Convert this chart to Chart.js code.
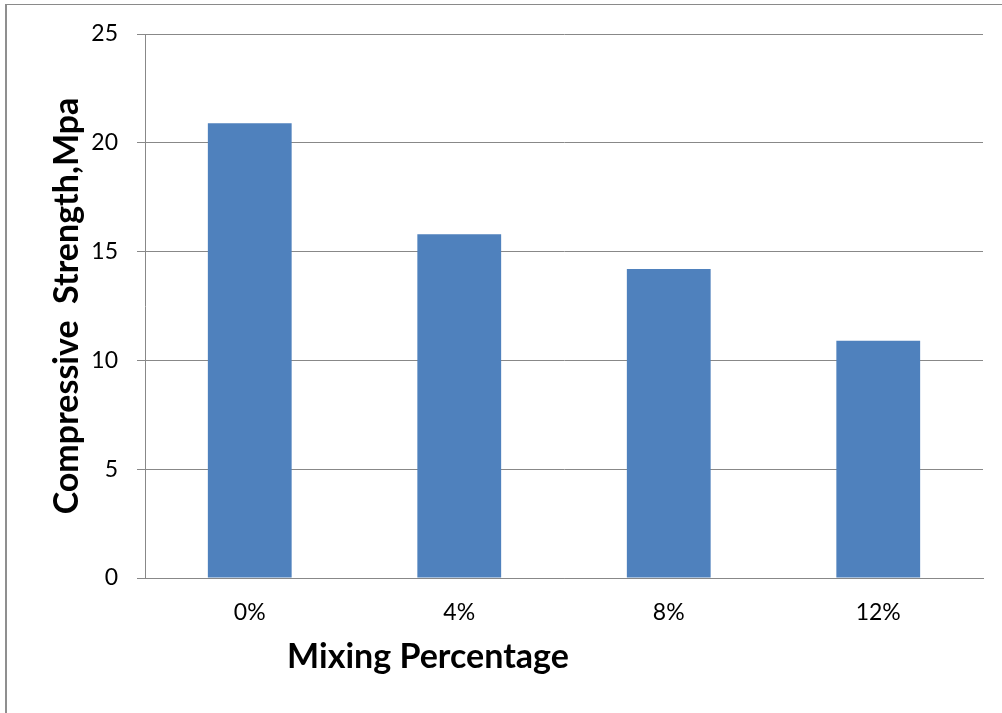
<!DOCTYPE html>
<html>
<head>
<meta charset="utf-8">
<script src="https://cdn.jsdelivr.net/npm/chart.js@4"></script>
<style>
  html, body { margin: 0; padding: 0; background: #fff; }
  #wrap { position: relative; width: 1002px; height: 713px; overflow: hidden; }
  #frame { position: absolute; left: 5px; top: 4px; width: 1200px; height: 900px;
           border-top: 1px solid #8a8a8a; border-left: 2px solid #8f8f8f; }
  #xTitle { position: absolute; left: 0; top: 638px; width: 856px; text-align: center;
            font: bold 34px Lato, sans-serif; line-height: 34px; color: #000; }
  canvas { position: absolute; left: 0; top: 0; }
</style>
</head>
<body>
<div id="wrap">
  <div id="frame"></div>
  <canvas id="chart" width="1002" height="713"></canvas>
  <div id="xTitle"></div>
</div>
<script>
// Mixing percentage categories and measured compressive strength (MPa)
const categories = ['0%', '4%', '8%', '12%'];
const strength = [20.9, 15.8, 14.2, 10.9];
const yTickValues = [0, 5, 10, 15, 20, 25];
const yTitle = 'Compressive  Strength,Mpa';
const xTitle = 'Mixing Percentage';

document.getElementById('xTitle').textContent = xTitle;

const axisGray = '#888888';
const tickFont = { family: 'Lato', size: 23 };

new Chart(document.getElementById('chart'), {
  type: 'bar',
  data: {
    labels: categories,
    datasets: [{
      data: strength,
      backgroundColor: '#4F81BD',
      borderWidth: 0,
      barPercentage: 0.4,
      categoryPercentage: 1.0
    }]
  },
  options: {
    responsive: false,
    animation: false,
    layout: { padding: { top: 34, right: 19, bottom: 0, left: 10 } },
    plugins: { legend: { display: false }, tooltip: { enabled: false } },
    scales: {
      x: {
        grid: { display: false, drawTicks: false },
        border: { display: true, color: axisGray, width: 1 },
        ticks: { font: tickFont, color: '#000', padding: 21 },
        afterFit: s => { s.height = 135; }
      },
      y: {
        min: 0,
        max: 25,
        afterBuildTicks: s => { s.ticks = yTickValues.map(v => ({ value: v })); },
        grid: { color: axisGray, lineWidth: 1, tickLength: 8, drawTicks: true },
        border: { display: true, color: axisGray, width: 1 },
        ticks: { font: tickFont, color: '#000', padding: 19 },
        title: {
          display: true,
          text: yTitle,
          color: '#000',
          font: { family: 'Lato', size: 34, weight: 'bold' },
          padding: { top: 37, bottom: 0 }
        },
        afterFit: s => { s.width = 135; }
      }
    }
  }
});
</script>
</body>
</html>
